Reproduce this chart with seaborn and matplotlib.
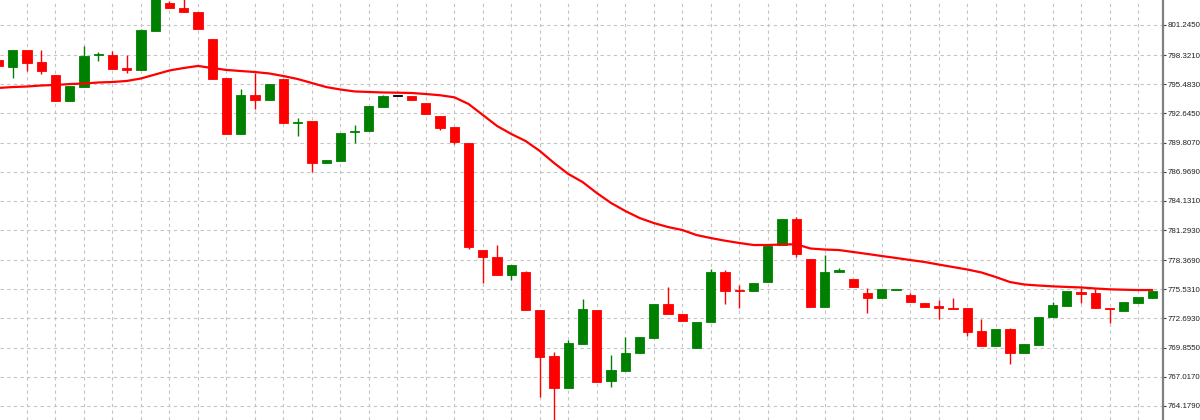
import numpy as np
import pandas as pd
import matplotlib
matplotlib.use("Agg")
import matplotlib.pyplot as plt
import seaborn as sns

sns.set_style("white")
plt.rcParams['font.family'] = ['Liberation Sans', 'DejaVu Sans']

# OHLC (one value per candle)
opens = [797.84, 797.13, 798.81, 797.65, 796.38, 793.88, 795.24, 798.28, 798.33, 797.03,
         796.87, 800.69, 803.36, 802.93, 802.54, 799.88, 796.06, 790.64, 794.41, 793.95,
         795.99, 791.74, 791.91, 787.79, 788.04, 790.81, 790.93, 793.29, 794.34, 794.34,
         793.69, 792.42, 791.29, 789.79, 779.35, 778.70, 776.95, 777.19, 773.55, 769.04,
         765.95, 770.21, 773.49, 766.64, 767.58, 769.30, 770.82, 774.07, 773.10, 769.85,
         772.38, 777.24, 775.46, 775.34, 776.27, 779.84, 782.37, 778.48, 773.84, 777.24,
         776.50, 775.17, 774.71, 775.49, 775.01, 774.23, 773.91, 773.74, 773.71, 771.47,
         770.04, 771.64, 769.36, 770.11, 772.81, 773.94, 775.24, 775.20, 773.68, 773.42,
         774.17, 774.71]
highs = [797.84, 798.81, 798.81, 798.81, 796.38, 795.31, 799.23, 798.59, 798.75, 798.33,
         800.86, 804.26, 803.58, 803.87, 802.54, 799.88, 796.06, 795.02, 796.55, 795.48,
         795.99, 792.17, 791.91, 788.08, 790.71, 791.52, 793.36, 794.44, 794.34, 794.34,
         793.69, 792.42, 791.29, 789.79, 779.35, 779.84, 777.87, 777.34, 773.55, 769.40,
         770.60, 774.59, 773.49, 769.14, 770.86, 770.86, 774.07, 775.78, 773.10, 772.38,
         777.48, 777.41, 775.95, 776.11, 779.74, 782.37, 782.59, 778.48, 778.87, 777.63,
         776.50, 775.63, 775.53, 775.56, 775.20, 774.23, 774.49, 774.65, 773.71, 772.61,
         771.64, 771.79, 770.18, 772.84, 774.33, 775.39, 775.63, 775.56, 773.68, 774.27,
         774.75, 775.39]
lows = [797.26, 796.12, 796.80, 796.48, 793.88, 793.88, 795.24, 797.74, 796.93, 796.61,
        796.87, 800.69, 802.87, 802.48, 800.86, 795.99, 790.64, 790.64, 793.07, 793.95,
        791.74, 790.45, 786.91, 787.79, 788.04, 789.79, 790.93, 793.29, 794.34, 793.95,
        792.56, 791.03, 789.67, 779.42, 776.11, 776.95, 776.43, 773.52, 765.08, 762.62,
        765.95, 770.21, 766.54, 765.99, 767.58, 769.30, 770.82, 773.13, 772.45, 769.85,
        772.38, 774.10, 773.68, 775.34, 776.27, 779.84, 778.64, 773.84, 773.84, 777.24,
        775.78, 773.19, 774.71, 775.49, 774.30, 773.84, 772.64, 773.65, 771.02, 770.04,
        770.04, 768.23, 769.36, 770.11, 772.81, 773.94, 774.17, 773.68, 772.28, 773.42,
        774.17, 774.71]
closes = [797.26, 798.81, 797.58, 796.77, 793.88, 795.31, 798.23, 798.38, 796.93, 796.87,
          800.76, 804.07, 802.87, 802.48, 800.86, 795.99, 790.64, 794.41, 793.95, 795.48,
          791.74, 791.84, 787.79, 788.08, 790.71, 790.93, 793.36, 794.34, 794.34, 793.95,
          792.56, 791.25, 789.89, 779.68, 778.70, 776.95, 777.87, 773.52, 768.91, 765.95,
          770.28, 773.59, 766.54, 767.68, 769.33, 770.86, 774.07, 773.13, 772.45, 772.38,
          777.24, 775.39, 775.34, 776.11, 779.74, 782.37, 778.96, 773.84, 777.24, 777.38,
          775.78, 774.71, 775.53, 775.56, 774.30, 773.84, 773.68, 773.65, 771.41, 770.04,
          771.64, 769.36, 770.18, 772.84, 773.97, 775.39, 775.07, 773.68, 773.59, 774.27,
          774.75, 775.39]
# moving average line (red)
ma = [795.12, 795.21, 795.26, 795.36, 795.41, 795.50, 795.55, 795.65, 795.70, 795.80,
      796.04, 796.43, 796.82, 797.06, 797.26, 797.06, 796.87, 796.77, 796.67, 796.53,
      796.28, 795.99, 795.60, 795.21, 794.97, 794.78, 794.73, 794.68, 794.66, 794.63,
      794.53, 794.41, 794.21, 793.56, 792.49, 791.42, 790.64, 789.96, 788.99, 787.82,
      786.75, 785.97, 784.90, 783.93, 783.15, 782.47, 781.98, 781.59, 781.30, 780.81,
      780.52, 780.26, 780.04, 779.84, 779.84, 779.89, 779.91, 779.50, 779.40, 779.35,
      779.16, 778.97, 778.77, 778.58, 778.38, 778.19, 777.94, 777.70, 777.46, 777.17,
      776.73, 776.24, 776.00, 775.90, 775.82, 775.76, 775.71, 775.61, 775.53, 775.49,
      775.46, 775.46]
price_ticks = [801.245, 798.321, 795.483, 792.645, 789.807, 786.969, 784.131,
               781.293, 778.369, 775.531, 772.693, 769.855, 767.017, 764.179]

df = pd.DataFrame({"open": opens, "high": highs, "low": lows, "close": closes, "ma": ma})
df["idx"] = np.arange(len(df))
df["color"] = np.where(df["close"] > df["open"], "#008000",
                       np.where(df["close"] < df["open"], "#ff0000", "#000000"))

fig = plt.figure(figsize=(12, 4.2), dpi=100)
ax = fig.add_axes([0, 0, 1163 / 1200, 1])

# grid: horizontal at price ticks, vertical every 2 bars
for p in price_ticks:
    ax.axhline(p, color="#c4c4c4", lw=0.8, ls=(0, (3, 3)), zorder=0)
for i in range(0, len(df) + 2, 2):
    ax.axvline(i, color="#c4c4c4", lw=0.8, ls=(0, (3, 3)), zorder=0)

# wicks
ax.vlines(df["idx"], df["low"], df["high"], colors=df["color"], lw=1.0, zorder=2)
# bodies
body_bottom = df[["open", "close"]].min(axis=1)
body_h = (df["close"] - df["open"]).abs().clip(lower=0.1)
ax.bar(df["idx"], body_h, bottom=body_bottom, width=0.65, color=df["color"],
       edgecolor=df["color"], linewidth=0.6, zorder=3)

sns.lineplot(data=df, x="idx", y="ma", color="#ff0000", lw=1.6, ax=ax, zorder=4)

ax.set_xlim(0.105, 81.75)
ax.set_ylim(762.815, 803.677)
ax.set_xticks([])
ax.set_xlabel("")
ax.set_ylabel("")
ax.yaxis.tick_right()
ax.set_yticks(price_ticks)
ax.set_yticklabels([f"{p:.4f}" for p in price_ticks])
ax.tick_params(axis="y", direction="out", length=2.5, width=0.8, color="#404040",
               labelsize=5.7, labelcolor="#202020", pad=1)
for s in ["left", "top", "bottom"]:
    ax.spines[s].set_visible(False)
ax.spines["right"].set_color("#808080")
ax.spines["right"].set_linewidth(1.6)

fig.savefig("out.png", dpi=100)
